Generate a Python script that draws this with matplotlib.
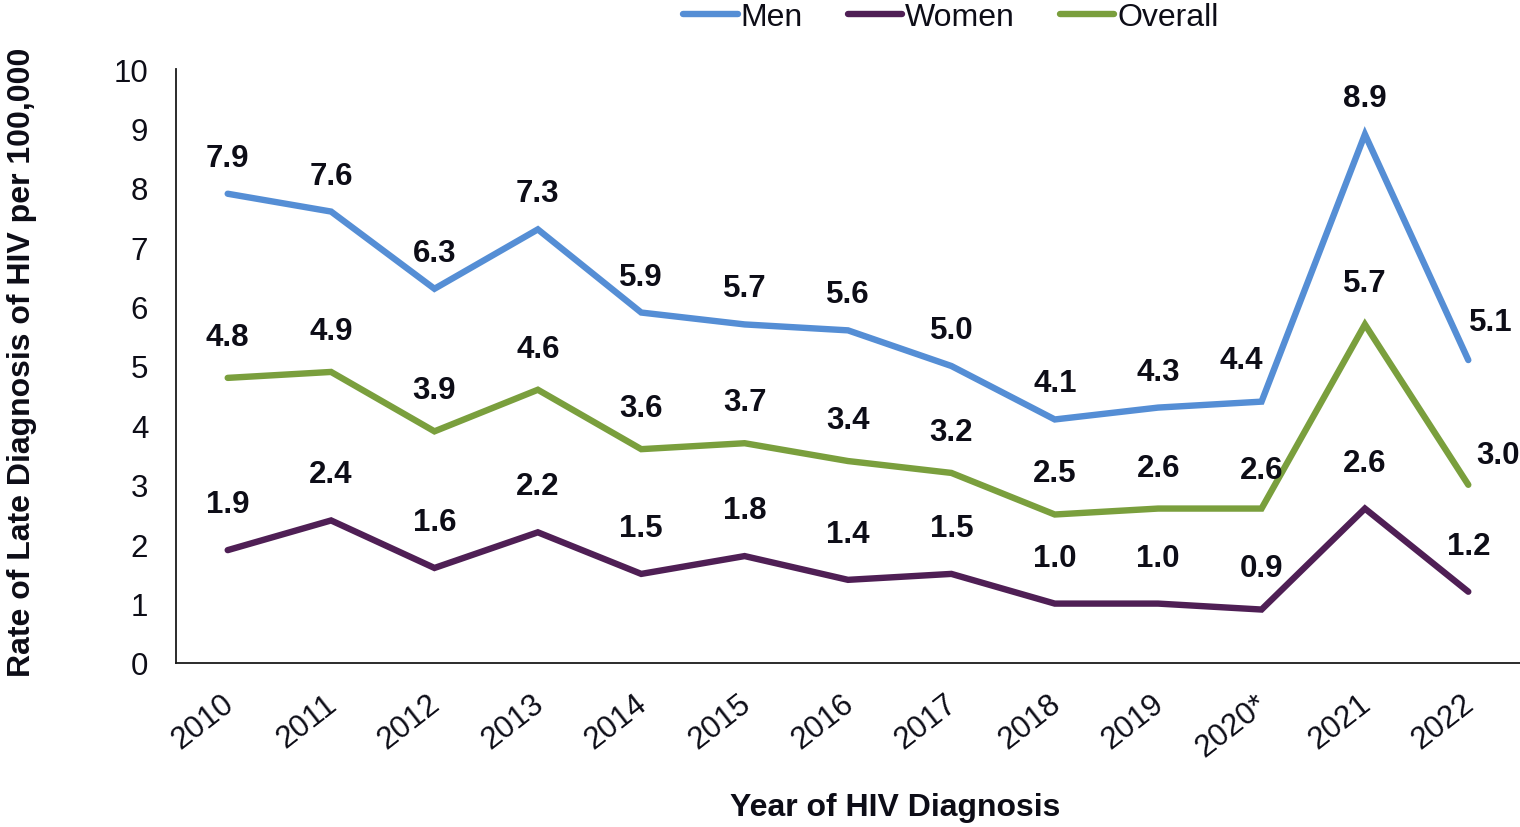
import matplotlib.pyplot as plt
from matplotlib.transforms import ScaledTranslation

plt.rcParams['font.family'] = ['Liberation Sans', 'DejaVu Sans']

# ---- data ----
years = ["2010", "2011", "2012", "2013", "2014", "2015", "2016",
         "2017", "2018", "2019", "2020*", "2021", "2022"]
men = [7.9, 7.6, 6.3, 7.3, 5.9, 5.7, 5.6, 5.0, 4.1, 4.3, 4.4, 8.9, 5.1]
women = [1.9, 2.4, 1.6, 2.2, 1.5, 1.8, 1.4, 1.5, 1.0, 1.0, 0.9, 2.6, 1.2]
overall = [4.8, 4.9, 3.9, 4.6, 3.6, 3.7, 3.4, 3.2, 2.5, 2.6, 2.6, 5.7, 3.0]

TEXT = "#0d0d17"
series = [
    ("Men", men, "#558ED5", 36),
    ("Women", women, "#4F1F55", 46),
    ("Overall", overall, "#7A9F3D", 41),
]
# a few labels are nudged sideways / lower (in pixels)
nudge = {("Men", 10): (-20, 6), ("Men", 12): (22, 2),
         ("Overall", 12): (30, -11), ("Overall", 10): (0, -2),
         ("Women", 10): (0, -4)}

fig = plt.figure(figsize=(15.2, 8.28), dpi=100)
ax = fig.add_axes([176 / 1520, 164 / 828, 1344 / 1520, 594 / 828])

x = list(range(len(years)))
for name, vals, color, off in series:
    ax.plot(x, vals, color=color, lw=4.6, label=name, solid_capstyle="round",
            solid_joinstyle="miter")
    for i, v in enumerate(vals):
        dx, dy = nudge.get((name, i), (0, 0))
        ax.annotate(f"{v:.1f}", (i, v), xytext=(dx, off + dy),
                    textcoords="offset pixels", ha="center", va="center",
                    fontsize=22.5, fontweight="bold", color=TEXT,
                    annotation_clip=False)

ax.set_xlim(-0.5, len(years) - 0.5)
ax.set_ylim(0, 10)
ax.set_yticks(range(0, 11))
ax.set_xticks(x)
ax.set_xticklabels(years, rotation=38, ha="right", va="top",
                   rotation_mode="anchor")
ax.tick_params(axis="both", length=0, labelsize=22.5, labelcolor=TEXT)
ax.tick_params(axis="y", pad=20)
ax.tick_params(axis="x", pad=18)
# nudge year labels slightly left
shift = ScaledTranslation(-7 / 100, 0, fig.dpi_scale_trans)
for lbl in ax.get_xticklabels():
    lbl.set_transform(lbl.get_transform() + shift)
for side in ("top", "right"):
    ax.spines[side].set_visible(False)
for side in ("left", "bottom"):
    ax.spines[side].set_color("#1a1a1a")
    ax.spines[side].set_linewidth(1.3)

fig.text(22 / 1520, 1 - 362 / 828, "Rate of Late Diagnosis of HIV per 100,000",
         rotation=90, ha="center", va="center", fontsize=23,
         fontweight="bold", color=TEXT)
fig.text(895 / 1520, 1 - 808 / 828, "Year of HIV Diagnosis", ha="center",
         va="center", fontsize=23, fontweight="bold", color=TEXT)

fig.legend(loc="center", bbox_to_anchor=(951 / 1520, 1 - 18 / 828), ncol=3,
           frameon=False, fontsize=23, handlelength=1.7, handletextpad=0.1,
           columnspacing=1.4, labelcolor=TEXT)

fig.savefig("out.png", dpi=100)
